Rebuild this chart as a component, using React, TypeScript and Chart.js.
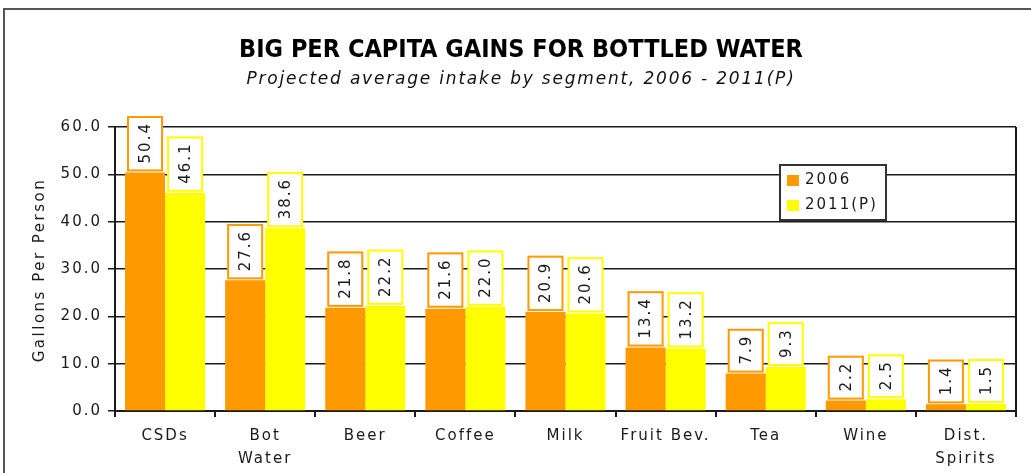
import React, { useEffect, useRef } from "react";
import { Chart, registerables } from "chart.js";

Chart.register(...registerables);

const categories: (string | string[])[] = [
  "CSDs",
  ["Bot", "Water"],
  "Beer",
  "Coffee",
  "Milk",
  "Fruit Bev.",
  "Tea",
  "Wine",
  ["Dist.", "Spirits"],
];
const seriesNames = ["2006", "2011(P)"];
const values2006 = [50.4, 27.6, 21.8, 21.6, 20.9, 13.4, 7.9, 2.2, 1.4];
const values2011 = [46.1, 38.6, 22.2, 22.0, 20.6, 13.2, 9.3, 2.5, 1.5];
const yTicks = [0, 10, 20, 30, 40, 50, 60];

const titleText = "BIG PER CAPITA GAINS FOR BOTTLED WATER";
const subtitleText = "Projected average intake by segment, 2006 - 2011(P)";
const yAxisTitle = "Gallons Per Person";

const ORANGE = "#FF9900";
const YELLOW = "#FFFF00";
const DARK = "#1a1a1a";
const FONT = '"DejaVu Sans", Verdana, sans-serif';

const decorPlugin = {
  id: "decor",
  beforeDraw(chart: any) {
    const ctx = chart.ctx as CanvasRenderingContext2D;
    ctx.save();
    ctx.fillStyle = "#ffffff";
    ctx.fillRect(0, 0, chart.width, chart.height);
    ctx.strokeStyle = "#555555";
    ctx.lineWidth = 2;
    ctx.strokeRect(4, 9, chart.width + 50, chart.height + 50);
    ctx.restore();
    (ctx as any).letterSpacing = "2px";
  },
  afterDatasetsDraw(chart: any) {
    const ctx = chart.ctx as CanvasRenderingContext2D;
    const area = chart.chartArea;
    ctx.save();
    ctx.strokeStyle = DARK;
    ctx.lineWidth = 2;
    ctx.beginPath();
    ctx.moveTo(area.right, area.top);
    ctx.lineTo(area.right, area.bottom);
    ctx.stroke();
    ctx.restore();

    const colors = [ORANGE, YELLOW];
    chart.data.datasets.forEach((ds: any, di: number) => {
      const meta = chart.getDatasetMeta(di);
      meta.data.forEach((bar: any, i: number) => {
        const v = ds.data[i] as number;
        const text = v.toFixed(1);
        ctx.save();
        (ctx as any).letterSpacing = "2px";
        ctx.font = `15px ${FONT}`;
        const tw = ctx.measureText(text).width;
        const boxH = tw + 12;
        const boxW = bar.width - 6;
        const bottom = bar.y - 2;
        const top = bottom - boxH;
        const left = bar.x - boxW / 2;
        ctx.fillStyle = "#ffffff";
        ctx.fillRect(left, top, boxW, boxH);
        ctx.strokeStyle = colors[di];
        ctx.lineWidth = 2;
        ctx.strokeRect(left, top, boxW, boxH);
        ctx.translate(bar.x, (top + bottom) / 2);
        ctx.rotate(-Math.PI / 2);
        ctx.fillStyle = DARK;
        ctx.textAlign = "center";
        ctx.textBaseline = "middle";
        ctx.fillText(text, 1, 1);
        ctx.restore();
      });
    });

    ctx.save();
    const lx = 780, ly = 165, lw = 106, lh = 55;
    ctx.fillStyle = "#ffffff";
    ctx.fillRect(lx, ly, lw, lh);
    ctx.strokeStyle = "#333333";
    ctx.lineWidth = 2;
    ctx.strokeRect(lx, ly, lw, lh);
    (ctx as any).letterSpacing = "2px";
    ctx.font = `15px ${FONT}`;
    ctx.textAlign = "left";
    ctx.textBaseline = "middle";
    seriesNames.forEach((name, i) => {
      const cy = ly + 15 + i * 25;
      ctx.fillStyle = colors[i];
      ctx.fillRect(lx + 7, cy - 5, 12, 11);
      ctx.fillStyle = DARK;
      ctx.fillText(name, lx + 25, cy);
    });
    ctx.restore();
  },
  afterDraw(chart: any) {
    const ctx = chart.ctx as CanvasRenderingContext2D;
    const area = chart.chartArea;
    ctx.save();
    (ctx as any).letterSpacing = "0px";
    ctx.textAlign = "center";
    ctx.textBaseline = "middle";
    ctx.fillStyle = "#000000";
    ctx.font = `bold 25px "DejaVu Sans Condensed", "DejaVu Sans", sans-serif`;
    ctx.fillText(titleText, 521, 50);
    (ctx as any).letterSpacing = "1.8px";
    ctx.font = `italic 17px ${FONT}`;
    ctx.fillStyle = "#111111";
    ctx.fillText(subtitleText, 521, 80);
    ctx.restore();

    ctx.save();
    (ctx as any).letterSpacing = "2.5px";
    ctx.font = `15px ${FONT}`;
    ctx.fillStyle = DARK;
    ctx.textAlign = "center";
    ctx.textBaseline = "middle";
    ctx.translate(40, (area.top + area.bottom) / 2 + 1);
    ctx.rotate(-Math.PI / 2);
    ctx.fillText(yAxisTitle, 0, 0);
    ctx.restore();
  },
};

export default function App() {
  const ref = useRef<HTMLCanvasElement | null>(null);
  useEffect(() => {
    if (!ref.current) return;
    const chart = new Chart(ref.current, {
      type: "bar",
      data: {
        labels: categories,
        datasets: [
          {
            label: seriesNames[0],
            data: values2006,
            backgroundColor: ORANGE,
            categoryPercentage: 0.8,
            barPercentage: 1.0,
          },
          {
            label: seriesNames[1],
            data: values2011,
            backgroundColor: YELLOW,
            categoryPercentage: 0.8,
            barPercentage: 1.0,
          },
        ],
      },
      options: {
        animation: false,
        responsive: false,
        devicePixelRatio: 1,
        layout: { padding: { top: 127, right: 15, bottom: 0, left: 0 } },
        plugins: {
          legend: { display: false },
          title: { display: false },
          tooltip: { enabled: false },
        },
        scales: {
          x: {
            offset: true,
            grid: {
              display: true,
              drawOnChartArea: false,
              drawTicks: true,
              tickLength: 6,
              color: DARK,
              lineWidth: 2,
              offset: true,
            },
            border: { display: true, color: DARK, width: 2 },
            ticks: {
              color: DARK,
              font: { family: FONT, size: 15, lineHeight: 1.5 },
              padding: 8,
              maxRotation: 0,
              autoSkip: false,
            },
            afterFit: (scale: any) => {
              scale.height = 62;
            },
          },
          y: {
            min: 0,
            max: 60,
            afterBuildTicks: (scale: any) => {
              scale.ticks = yTicks.map((v) => ({ value: v }));
            },
            grid: {
              color: DARK,
              lineWidth: 1.5,
              tickLength: 7,
              drawTicks: true,
            },
            border: { display: true, color: DARK, width: 2 },
            ticks: {
              color: DARK,
              font: { family: FONT, size: 15 },
              padding: 6,
              callback: (v: any) => Number(v).toFixed(1),
            },
            afterFit: (scale: any) => {
              scale.width = 115;
            },
          },
        },
      },
      plugins: [decorPlugin],
    });
    return () => chart.destroy();
  }, []);
  return (
    <div style={{ position: "absolute", left: 0, top: 0, width: 1031, height: 473 }}>
      <canvas ref={ref} width={1031} height={473} style={{ display: "block" }} />
    </div>
  );
}
